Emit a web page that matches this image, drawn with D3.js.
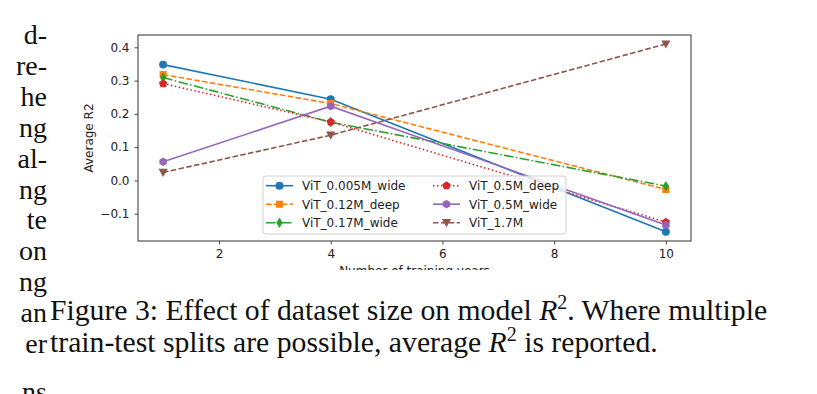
<!DOCTYPE html>
<html>
<head>
<meta charset="utf-8">
<script src="https://cdn.jsdelivr.net/npm/d3@7"></script>
<style>
  body { margin: 0; background: #fff; }
  svg { display: block; }
</style>
</head>
<body>
<svg id="fig" width="817" height="394"></svg>
<script>
// training years on the x axis
const years = [1, 4, 10];
const seriesNames = ["ViT_0.005M_wide", "ViT_0.12M_deep", "ViT_0.17M_wide", "ViT_0.5M_deep", "ViT_0.5M_wide", "ViT_1.7M"];
// average R2 per series
const r2_005M_wide = [0.348, 0.244, -0.154];
const r2_012M_deep = [0.318, 0.231, -0.027];
const r2_017M_wide = [0.309, 0.175, -0.017];
const r2_05M_deep = [0.291, 0.176, -0.125];
const r2_05M_wide = [0.056, 0.223, -0.134];
const r2_17M = [0.024, 0.136, 0.410];
const xTicks = [2, 4, 6, 8, 10];
const yTicks = [-0.1, 0.0, 0.1, 0.2, 0.3, 0.4];
// ends of the text column on the left of the page
const sideWords = ["d-", "re-", "he", "ng", "al-", "ng", "te", "on", "ng", "an", "er"];
const sideLast = "ns";

const seriesValues = [r2_005M_wide, r2_012M_deep, r2_017M_wide, r2_05M_deep, r2_05M_wide, r2_17M];
const colors = ["#1f77b4", "#ff7f0e", "#2ca02c", "#d62728", "#9467bd", "#8c564b"];
const dashes = [null, "5.5,2.4", "9.6,2.4,1.5,2.4", "1.5,2.5", null, "5.5,2.4"];
const markers = ["circle", "square", "diamond", "pentagon", "hexagon", "tridown"];

const serif = "Liberation Serif, Times New Roman, serif";
const sans = "DejaVu Sans, sans-serif";
const svg = d3.select("#fig");

// left column word ends
const side = svg.append("g")
  .attr("font-family", serif)
  .attr("font-size", "28px")
  .attr("fill", "#111")
  .attr("text-anchor", "end");
side.selectAll("text")
  .data(sideWords)
  .join("text")
  .attr("x", 47)
  .attr("y", (d, i) => 44 + i * 30.9)
  .text((d) => d);
// last line only shows its top edge in the page crop
side.append("text").attr("x", 47).attr("y", 401).text(sideLast);

// plot area
const pLeft = 138, pRight = 691, pTop = 35, pBottom = 241;
const x = d3.scaleLinear().domain([0.55, 10.45]).range([pLeft, pRight]);
const y = d3.scaleLinear().domain([-0.182, 0.437]).range([pBottom, pTop]);

svg.append("defs").append("clipPath").attr("id", "figclip")
  .append("rect").attr("x", 0).attr("y", 0).attr("width", 817).attr("height", 270);

const fig = svg.append("g").attr("clip-path", "url(#figclip)");

// marker shapes
function markerPath(kind) {
  if (kind === "circle") return d3.symbol(d3.symbolCircle, 50)();
  if (kind === "square") return d3.symbol(d3.symbolSquare, 50)();
  if (kind === "diamond") return "M0,-5.2L3.2,0L0,5.2L-3.2,0Z";
  if (kind === "pentagon") {
    let p = [];
    for (let k = 0; k < 5; k++) {
      const a = -Math.PI / 2 + k * 2 * Math.PI / 5;
      p.push([4.4 * Math.cos(a), 4.4 * Math.sin(a)]);
    }
    return "M" + p.join("L") + "Z";
  }
  if (kind === "hexagon") {
    let p = [];
    for (let k = 0; k < 6; k++) {
      const a = -Math.PI / 2 + k * Math.PI / 3;
      p.push([4.3 * Math.cos(a), 4.3 * Math.sin(a)]);
    }
    return "M" + p.join("L") + "Z";
  }
  return "M-4.6,-3.6L4.6,-3.6L0,4.6Z"; // triangle down
}

const line = d3.line().x((d) => x(d[0])).y((d) => y(d[1]));

seriesValues.forEach((vals, i) => {
  const pts = years.map((yr, j) => [yr, vals[j]]);
  fig.append("path")
    .datum(pts)
    .attr("fill", "none")
    .attr("stroke", colors[i])
    .attr("stroke-width", 1.6)
    .attr("stroke-dasharray", dashes[i])
    .attr("d", line);
  fig.append("g")
    .selectAll("path")
    .data(pts)
    .join("path")
    .attr("transform", (d) => "translate(" + x(d[0]) + "," + y(d[1]) + ")")
    .attr("d", markerPath(markers[i]))
    .attr("fill", colors[i]);
});

// axes
const xAxis = fig.append("g")
  .attr("transform", "translate(0," + pBottom + ")")
  .call(d3.axisBottom(x).tickValues(xTicks).tickSize(3.5).tickPadding(4.5).tickFormat(d3.format("d")));
const yAxis = fig.append("g")
  .attr("transform", "translate(" + pLeft + ",0)")
  .call(d3.axisLeft(y).tickValues(yTicks).tickSize(3.5).tickPadding(5)
    .tickFormat((d) => d3.format(".1f")(d).replace("-", "\u2212")));
[xAxis, yAxis].forEach((ax) => {
  ax.select(".domain").remove();
  ax.selectAll("text").attr("font-family", sans).attr("font-size", "12px").attr("fill", "#222");
  ax.selectAll("line").attr("stroke", "#333").attr("stroke-width", 0.9);
});

// frame
fig.append("rect")
  .attr("x", pLeft).attr("y", pTop)
  .attr("width", pRight - pLeft).attr("height", pBottom - pTop)
  .attr("fill", "none").attr("stroke", "#444").attr("stroke-width", 1.1);

// axis titles
fig.append("text")
  .attr("x", (pLeft + pRight) / 2)
  .attr("y", 275)
  .attr("text-anchor", "middle")
  .attr("font-family", sans)
  .attr("font-size", "12px")
  .attr("fill", "#222")
  .text("Number of training years");
fig.append("text")
  .attr("transform", "translate(93," + (pTop + pBottom) / 2 + ") rotate(-90)")
  .attr("text-anchor", "middle")
  .attr("font-family", sans)
  .attr("font-size", "12px")
  .attr("fill", "#222")
  .text("Average R2");

// legend
const legend = fig.append("g");
legend.append("rect")
  .attr("x", 263).attr("y", 176).attr("width", 303).attr("height", 58)
  .attr("rx", 3)
  .attr("fill", "#fff").attr("fill-opacity", 0.8)
  .attr("stroke", "#d0d0d0").attr("stroke-width", 1);
seriesNames.forEach((name, i) => {
  const col = Math.floor(i / 3), row = i % 3;
  const lx = 266 + col * 167, ly = 185.7 + row * 18.5;
  const item = legend.append("g");
  item.append("line")
    .attr("x1", lx).attr("x2", lx + 27).attr("y1", ly).attr("y2", ly)
    .attr("stroke", colors[i]).attr("stroke-width", 1.6)
    .attr("stroke-dasharray", dashes[i]);
  item.append("path")
    .attr("transform", "translate(" + (lx + 13.5) + "," + ly + ")")
    .attr("d", markerPath(markers[i]))
    .attr("fill", colors[i]);
  item.append("text")
    .attr("x", lx + 36).attr("y", ly + 4.3)
    .attr("font-family", sans)
    .attr("font-size", "12px")
    .attr("fill", "#222")
    .text(name);
});

// caption
const cap = svg.append("g")
  .attr("font-family", serif)
  .attr("font-size", "29.7px")
  .attr("fill", "#111");
const l1 = cap.append("text").attr("x", 50).attr("y", 320);
l1.append("tspan").text("Figure 3: Effect of dataset size on model ");
l1.append("tspan").attr("font-style", "italic").text("R");
l1.append("tspan").attr("font-size", "20px").attr("dy", -11.5).text("2");
l1.append("tspan").attr("dy", 11.5).text(". Where multiple");
const l2 = cap.append("text").attr("x", 50).attr("y", 352);
l2.append("tspan").text("train-test splits are possible, average ");
l2.append("tspan").attr("font-style", "italic").text("R");
l2.append("tspan").attr("font-size", "20px").attr("dy", -11.5).text("2");
l2.append("tspan").attr("dy", 11.5).text(" is reported.");
</script>
</body>
</html>
